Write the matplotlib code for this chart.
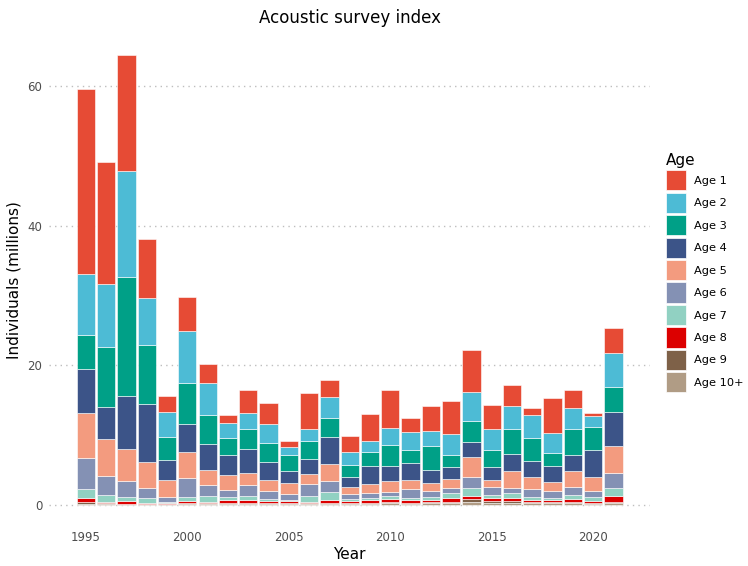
import numpy as np
import matplotlib.pyplot as plt
from matplotlib.patches import Patch

years = np.arange(1995, 2022)
ages = ["Age 1", "Age 2", "Age 3", "Age 4", "Age 5",
        "Age 6", "Age 7", "Age 8", "Age 9", "Age 10+"]
colors = ["#E64B35", "#4DBBD5", "#00A087", "#3C5488", "#F39B7F",
          "#8491B4", "#91D1C2", "#DC0000", "#7E6148", "#B09C85"]

# individuals (millions) per age, 1995..2021
age1 = [26.5, 17.5, 16.6, 8.4, 2.4, 4.9, 2.7, 1.2, 3.3, 3.0, 0.8, 5.1, 2.4, 2.35,
        3.9, 5.5, 2.1, 3.5, 4.7, 6.0, 3.4, 2.9, 1.0, 5.0, 2.6, 0.5, 3.7]
age2 = [8.8, 9.1, 15.3, 6.7, 3.5, 7.5, 4.6, 2.1, 2.2, 2.7, 1.2, 1.8, 3.0, 1.75,
        1.5, 2.5, 2.5, 2.2, 3.0, 4.15, 3.1, 3.4, 3.3, 2.9, 3.0, 1.6, 4.8]
age3 = [4.9, 8.6, 17.0, 8.5, 3.4, 5.8, 4.15, 2.5, 2.9, 2.8, 2.3, 2.5, 2.85, 1.75,
        2.0, 2.9, 1.9, 3.5, 1.65, 3.05, 2.45, 3.6, 3.2, 1.8, 3.7, 3.3, 3.6]
age4 = [6.3, 4.6, 7.6, 8.3, 2.8, 4.0, 3.85, 2.9, 3.4, 2.6, 1.75, 2.25, 3.75, 1.4,
        2.6, 2.15, 2.4, 1.85, 1.75, 2.1, 1.85, 2.4, 2.3, 2.4, 2.3, 3.8, 4.9]
age5 = [6.5, 5.3, 4.6, 3.7, 2.5, 3.8, 2.1, 2.05, 1.8, 1.6, 1.55, 1.45, 2.45, 1.1,
        1.4, 1.7, 1.4, 1.15, 1.25, 2.9, 1.0, 2.35, 1.75, 1.25, 2.2, 2.05, 3.9]
age6 = [4.4, 2.7, 2.3, 1.5, 0.7, 2.75, 1.55, 1.0, 1.5, 1.05, 0.8, 1.6, 1.6, 0.65,
        0.65, 0.55, 1.25, 0.75, 0.85, 1.6, 1.1, 0.75, 1.1, 0.95, 1.15, 0.9, 2.1]
age7 = [1.3, 0.9, 0.6, 0.65, 0.15, 0.55, 0.85, 0.55, 0.6, 0.35, 0.2, 0.95, 1.2, 0.35,
        0.25, 0.35, 0.3, 0.45, 0.7, 1.1, 0.4, 0.7, 0.43, 0.4, 0.7, 0.48, 1.1]
age8 = [0.6, 0.25, 0.35, 0.15, 0.1, 0.3, 0.2, 0.4, 0.5, 0.3, 0.3, 0.1, 0.45, 0.3,
        0.5, 0.45, 0.35, 0.3, 0.45, 0.5, 0.43, 0.5, 0.34, 0.25, 0.3, 0.32, 0.87]
age9 = [0.2, 0.1, 0.1, 0.1, 0.05, 0.1, 0.1, 0.1, 0.1, 0.1, 0.1, 0.15, 0.1, 0.1,
        0.1, 0.2, 0.15, 0.2, 0.25, 0.45, 0.27, 0.25, 0.2, 0.15, 0.2, 0.12, 0.2]
age10 = [0.15, 0.1, 0.05, 0.05, 0.05, 0.1, 0.1, 0.1, 0.1, 0.1, 0.1, 0.1, 0.1, 0.1,
         0.1, 0.2, 0.15, 0.2, 0.2, 0.35, 0.3, 0.25, 0.18, 0.2, 0.25, 0.13, 0.23]

series = [age1, age2, age3, age4, age5, age6, age7, age8, age9, age10]

fig = plt.figure(figsize=(7.48, 5.66), dpi=100)
ax = fig.add_axes([0.066, 0.069, 0.803, 0.873])

# ggplot stacks the last level at the bottom
bottom = np.zeros(len(years))
for vals, col in zip(series[::-1], colors[::-1]):
    vals = np.array(vals)
    ax.bar(years, vals, width=0.9, bottom=bottom, color=col,
           edgecolor="white", linewidth=0.4)
    bottom += vals

ax.set_xlim(1993.2, 2022.8)
ax.set_ylim(-3.2, 67.7)
ax.set_xticks([1995, 2000, 2005, 2010, 2015, 2020])
ax.set_yticks([0, 20, 40, 60])
ax.grid(axis="y", color="#BEBEBE", linestyle=(0, (1, 3)), linewidth=1)
ax.set_axisbelow(True)
for s in ax.spines.values():
    s.set_visible(False)
ax.tick_params(length=0, labelsize=8.5, labelcolor="#4D4D4D")
ax.tick_params(axis="x", pad=3)
ax.tick_params(axis="y", pad=5)

ax.set_xlabel("Year", fontsize=11, labelpad=2)
ax.set_ylabel("Individuals (millions)", fontsize=11, labelpad=4)
ax.set_title("Acoustic survey index", fontsize=12, pad=7)

handles = [Patch(facecolor=c, edgecolor="white", linewidth=0.5) for c in colors]
leg = fig.legend(handles, ages, title="Age", loc="upper left",
                 bbox_to_anchor=(0.884, 0.738), frameon=False,
                 fontsize=8.2, title_fontsize=11,
                 handlelength=1.75, handleheight=2.35, labelspacing=0.2,
                 handletextpad=0.7, borderaxespad=0)
leg._legend_box.align = "left"

fig.savefig("out.png", dpi=100)
